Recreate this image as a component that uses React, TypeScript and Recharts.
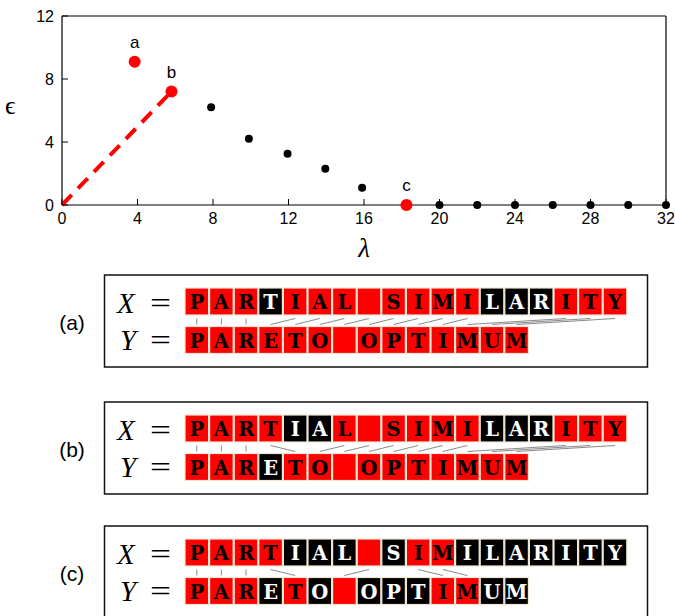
import { ScatterChart, Scatter, XAxis, YAxis, ReferenceLine, LabelList } from "recharts";

// top plot
const blackLambda = [7.9, 9.9, 11.95, 13.95, 15.9, 20, 22, 24, 26, 28, 30, 32];
const blackEps = [6.2, 4.2, 3.25, 2.3, 1.1, 0, 0, 0, 0, 0, 0, 0];
const redLabels = ["a", "b", "c"];
const redLambda = [3.85, 5.8, 18.25];
const redEps = [9.1, 7.2, 0];
const dashLambda = [0, 5.8];
const dashEps = [0, 7.2];
const xTicks = [0, 4, 8, 12, 16, 20, 24, 28, 32];
const yTicks = [0, 4, 8, 12];

// alignment panels
const xWord = "PARTIAL SIMILARITY";
const yWord = "PARETO OPTIMUM";
const panelNames = ["(a)", "(b)", "(c)"];
const xMasks = ["111011111111000111", "111100111111000111", "111100010110000000"];
const yMasks = ["11111111111111", "11101111111111", "11101010001100"];
const panelTops = [275, 402, 526];

const blackPts = blackLambda.map((x, i) => ({ x, y: blackEps[i] }));
const redPts = redLambda.map((x, i) => ({ x, y: redEps[i], label: redLabels[i] }));
const dashPts = dashLambda.map((x, i) => ({ x, y: dashEps[i] }));

const SANS = "'Liberation Sans', Arial, sans-serif";
const SERIF = "'Liberation Serif', 'Times New Roman', serif";
const SLAB = "'DejaVu Serif', serif";

function XTick(props: any) {
  const { x, y, payload } = props;
  return (
    <g>
      <line x1={x} x2={x} y1={y - 8} y2={y - 14} stroke="#000" strokeWidth={1} />
      <text x={x} y={y} dy="0.71em" textAnchor="middle" fontSize={16} fontFamily={SANS} fill="#000">
        {payload.value}
      </text>
    </g>
  );
}

function YTick(props: any) {
  const { x, y, payload } = props;
  return (
    <g>
      <line x1={x + 8} x2={x + 14} y1={y} y2={y} stroke="#000" strokeWidth={1} />
      <text x={x} y={y} dy="0.4em" textAnchor="end" fontSize={16} fontFamily={SANS} fill="#000">
        {payload.value}
      </text>
    </g>
  );
}

function Panel({ idx }: { idx: number }) {
  const top = panelTops[idx];
  const x0 = 184.5;
  const pitch = 24.6;
  const xMask = xMasks[idx];
  const yMask = yMasks[idx];
  const xRed = xMask.split("").map((m, i) => (m === "1" ? i : -1)).filter((i) => i >= 0);
  const yRed = yMask.split("").map((m, i) => (m === "1" ? i : -1)).filter((i) => i >= 0);
  const row = (word: string, mask: string, rowTop: number) =>
    word.split("").map((ch, i) => {
      const on = mask[i] === "1";
      return (
        <g key={i}>
          <rect x={x0 + i * pitch + 0.5} y={rowTop} width={pitch - 1} height={27} fill={on ? "#ff0000" : "#000"} stroke="#efe7d2" strokeWidth={1.2} />
          <text x={x0 + (i + 0.5) * pitch} y={rowTop + 21} textAnchor="middle" fontSize={19.5} fontWeight="bold" fontFamily={SLAB} fill={on ? "#000" : "#fff"}>
            {ch}
          </text>
        </g>
      );
    });
  return (
    <g>
      <text x={72} y={top + 48} dy="0.35em" textAnchor="middle" fontSize={21} fontFamily={SANS} fill="#000">
        {panelNames[idx]}
      </text>
      <rect x={104.5} y={top} width={543} height={92} fill="#fff" stroke="#111" strokeWidth={1.5} />
      <text x={117} y={top + 38} fontSize={29} fontStyle="italic" fontFamily={SERIF} fill="#000">X</text>
      <text x={150} y={top + 38} fontSize={29} fontFamily={SERIF} fill="#000" textLength={21} lengthAdjust="spacingAndGlyphs">=</text>
      <text x={120} y={top + 74.5} fontSize={29} fontStyle="italic" fontFamily={SERIF} fill="#000">Y</text>
      <text x={150} y={top + 74.5} fontSize={29} fontFamily={SERIF} fill="#000" textLength={21} lengthAdjust="spacingAndGlyphs">=</text>
      {row(xWord, xMask, top + 13)}
      {row(yWord, yMask, top + 51.5)}
      {xRed.map((xi, k) => (
        <line
          key={k}
          x1={x0 + (xi + 0.5) * pitch}
          y1={top + 43.5}
          x2={x0 + (yRed[k] + 0.5) * pitch}
          y2={top + 49.5}
          stroke="#8a8a8a"
          strokeWidth={1}
        />
      ))}
    </g>
  );
}

export default function App() {
  return (
    <div style={{ position: "absolute", left: 0, top: 0, width: 675, height: 616, background: "#fff", overflow: "hidden" }}>
      <ScatterChart width={675} height={262} margin={{ top: 16, right: 9, bottom: 0, left: 0 }}>
        <XAxis
          type="number"
          dataKey="x"
          domain={[0, 32]}
          ticks={xTicks}
          height={57}
          tickSize={0}
          tickMargin={8}
          tick={<XTick />}
          axisLine={{ stroke: "#000", strokeWidth: 1.2 }}
          label={{ value: "λ", position: "insideBottom", offset: 5, fontSize: 27, fontStyle: "italic", fontFamily: SERIF, fill: "#000" }}
        />
        <YAxis
          type="number"
          dataKey="y"
          domain={[0, 12]}
          ticks={yTicks}
          width={62}
          tickSize={0}
          tickMargin={8}
          tick={<YTick />}
          axisLine={{ stroke: "#000", strokeWidth: 1.2 }}
          label={{ value: "ϵ", position: "insideLeft", offset: 5, dy: -6, fontSize: 26, fontFamily: SERIF, fill: "#000" }}
        />
        <ReferenceLine y={12} stroke="#000" strokeWidth={1.2} />
        <ReferenceLine x={32} stroke="#000" strokeWidth={1.2} />
        <Scatter
          data={dashPts}
          line={{ stroke: "#ff0000", strokeWidth: 4, strokeDasharray: "14 9" }}
          shape={() => <g />}
          isAnimationActive={false}
        />
        <Scatter
          data={blackPts}
          shape={(p: any) => <circle cx={p.cx} cy={p.cy} r={4} fill="#000" />}
          isAnimationActive={false}
        />
        <Scatter
          data={redPts}
          shape={(p: any) => <circle cx={p.cx} cy={p.cy} r={6} fill="#ff0000" />}
          isAnimationActive={false}
        >
          <LabelList dataKey="label" position="top" offset={9} fontSize={17} fontFamily={SANS} fill="#000" />
        </Scatter>
      </ScatterChart>
      <svg width={675} height={616} style={{ position: "absolute", left: 0, top: 0, pointerEvents: "none" }}>
        {panelTops.map((_, i) => (
          <Panel key={i} idx={i} />
        ))}
      </svg>
    </div>
  );
}
